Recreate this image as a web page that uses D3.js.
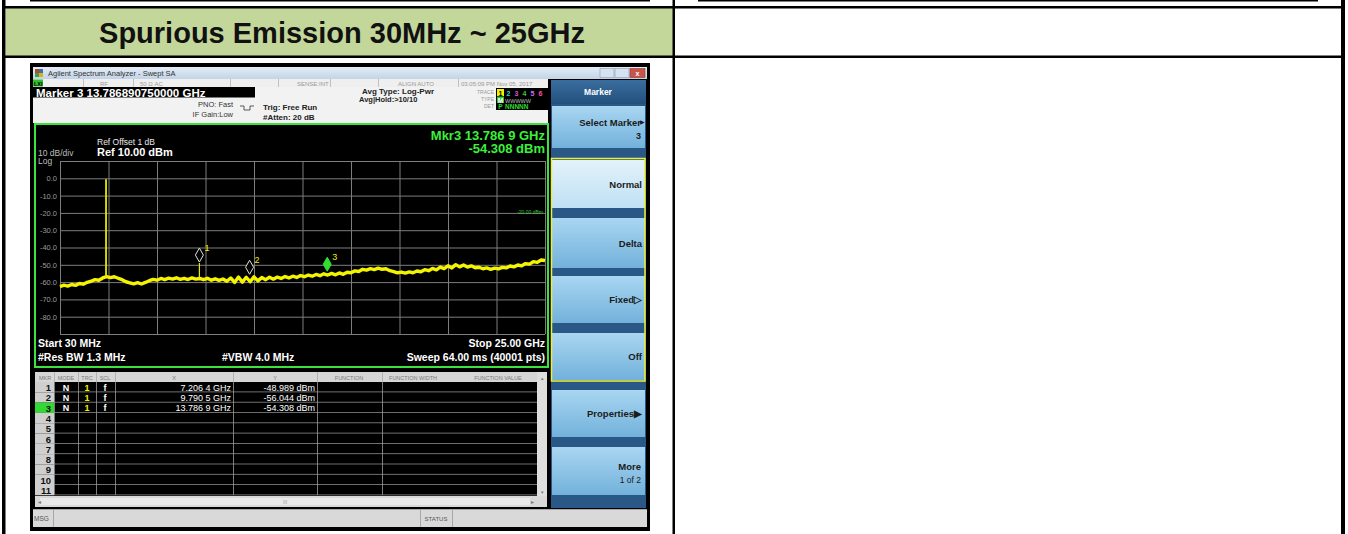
<!DOCTYPE html>
<html>
<head>
<meta charset="utf-8">
<script src="https://cdn.jsdelivr.net/npm/d3@7"></script>
<style>
  body { margin: 0; background: #fff; }
  svg { display: block; font-family: "Liberation Sans", Arial, sans-serif; }
</style>
</head>
<body>
<div id="chart"></div>
<script>
// ---- data ----
var headerTitle = "Spurious Emission 30MHz ~ 25GHz";
var startGHz = 0.03, stopGHz = 25.0;
var yTicks = [0, -10, -20, -30, -40, -50, -60, -70, -80];

// peak trace, one value every ~0.2 GHz from start to stop (dBm)
var traceLevels = [
  -62.6, -61.8, -62.3, -61.4, -61.9, -60.8, -61.2, -60.1, -59.5, -58.6,
  -58.9, -57.6, -56.8, -57.4, -56.9, -57.8, -58.6, -59.8, -60.4, -61.0,
  -60.3, -61.1, -60.2, -59.2, -58.4, -58.9, -57.9, -58.6, -57.7, -58.3,
  -57.5, -58.4, -57.8, -58.5, -57.6, -58.3, -57.9, -58.6, -57.8, -58.9,
  -58.1, -59.0, -58.2, -59.5, -57.6, -60.2, -57.1, -60.0, -57.2, -59.8,
  -57.0, -59.3, -57.4, -58.6, -57.2, -58.3, -57.1, -57.9, -56.8, -57.6,
  -56.6, -57.3, -56.2, -56.9, -55.9, -56.6, -55.6, -56.3, -55.2, -55.9,
  -55.0, -55.8, -54.7, -55.5, -54.3, -54.6, -53.5, -53.9, -52.6, -53.1,
  -52.2, -52.8, -51.9, -52.6, -52.3, -53.4, -53.9, -54.6, -54.2, -54.8,
  -54.1, -54.6, -53.6, -54.0, -52.8, -53.4, -52.1, -52.9, -51.3, -52.2,
  -50.6, -51.8, -49.9, -51.2, -50.1, -51.3, -50.6, -51.7, -51.4, -52.3,
  -51.8, -52.6, -51.9, -52.4, -51.5, -51.8, -50.7, -51.2, -50.1, -50.6,
  -49.3, -49.6, -48.2, -48.6, -47.2, -47.5
];
var spikeFreqGHz = [2.40, 7.2064];
var spikeTopDbm = [-0.5, -48.989];
var spikeFootDbm = [-57.0, -58.0];

var markerIds = [1, 2, 3];
var markerFreqGHz = [7.2064, 9.7905, 13.7869];
var markerLevelDbm = [-48.989, -56.044, -54.308];
var activeMarker = 3;
var activeMarkerExact = "13.786890750000";

var softkeyLabels = ["Select Marker", "Normal", "Delta", "Fixed\u25B7", "Off", "Properties\u25B6", "More"];
var softkeySubs = ["3", "", "", "", "", "", "1 of 2"];
var softkeyTops = [106, 160, 218, 276, 333, 390, 447];
var softkeyBottoms = [148, 208, 268, 323, 380, 437, 495];

var tableCols = ["MKR", "MODE", "TRC", "SCL", "X", "Y", "FUNCTION", "FUNCTION WIDTH", "FUNCTION VALUE"];

// ---- drawing ----
var W = 1348, H = 534;
var svg = d3.select("#chart").append("svg")
  .attr("width", W).attr("height", H)
  .attr("viewBox", "0 0 " + W + " " + H);

var defs = svg.append("defs");
function grad(id, c1, c2) {
  var g = defs.append("linearGradient").attr("id", id)
    .attr("x1", 0).attr("y1", 0).attr("x2", 0).attr("y2", 1);
  g.append("stop").attr("offset", "0%").attr("stop-color", c1);
  g.append("stop").attr("offset", "100%").attr("stop-color", c2);
}
grad("gTitle", "#e4edf7", "#c3d3e6");
grad("gKey", "#a9d6f1", "#72b1db");
grad("gKeySel", "#e3f2fb", "#bfe0f4");
grad("gHead", "#3a6d9e", "#22507c");

function rect(g, x, y, w, h, fill) {
  return g.append("rect").attr("x", x).attr("y", y).attr("width", w).attr("height", h).attr("fill", fill);
}
function txt(g, x, y, s, size, fill, anchor, weight) {
  return g.append("text").attr("x", x).attr("y", y).text(s)
    .attr("font-size", size).attr("fill", fill)
    .attr("text-anchor", anchor || "start")
    .attr("font-weight", weight || "normal");
}
function hyph(s) { return s.replace("\u2212", "-"); }

// ---- outer table ----
var tbl = svg.append("g");
rect(tbl, 6, 8, 667, 48, "#c4d79b");
txt(tbl, 342, 43, headerTitle, 29, "#111", "middle", "bold");
rect(tbl, 30, 0, 620, 1.5, "#000");
rect(tbl, 698, 0, 620, 1.5, "#000");
rect(tbl, 2, 6, 1343, 2.5, "#000");
rect(tbl, 2, 55.5, 1343, 2.5, "#000");
rect(tbl, 2, 0, 3.5, H, "#000");
rect(tbl, 672.5, 0, 2.5, H, "#000");
rect(tbl, 1341, 0, 4, H, "#000");

// ---- analyzer screenshot ----
var sa = svg.append("g");
rect(sa, 30, 63, 620, 468, "#000");

// title bar
rect(sa, 33, 67, 614, 12, "url(#gTitle)");
rect(sa, 35, 69, 4, 4, "#b04a2a"); rect(sa, 39, 69, 4, 4, "#3a6fb0");
rect(sa, 35, 73, 4, 4, "#3aa040"); rect(sa, 39, 73, 4, 4, "#d8b020");
txt(sa, 48, 76, "Agilent Spectrum Analyzer - Swept SA", 7.5, "#333");
[600, 615].forEach(function (bx) {
  rect(sa, bx, 68.5, 14, 9, "#d6e2ef").attr("stroke", "#8a9bb0").attr("stroke-width", 0.6);
});
rect(sa, 630, 68.5, 15, 9, "#c9544a").attr("stroke", "#8a3a30").attr("stroke-width", 0.6);
txt(sa, 637.5, 76, "x", 7, "#fff", "middle", "bold");

// status row
rect(sa, 33, 79, 515, 8, "#efefef");
rect(sa, 33, 79.5, 10, 7, "#2fbf2f");
txt(sa, 34, 85.5, "LXI", 5.5, "#000", "start", "bold");
[83, 133, 230, 278, 330, 378, 458].forEach(function (dx) { rect(sa, dx, 79, 0.8, 8, "#b5b5b5"); });
txt(sa, 100, 85.5, "RF", 6, "#999");
txt(sa, 140, 85.5, "50 \u03A9   AC", 6, "#999");
txt(sa, 297, 85.5, "SENSE:INT", 6, "#999");
txt(sa, 398, 85.5, "ALIGN AUTO", 6, "#999");
txt(sa, 461, 85.5, "03:05:09 PM Nov 05, 2017", 6, "#999");

// info area
rect(sa, 33, 87, 515, 36, "#f2f2f2");
rect(sa, 33, 87, 222, 10.5, "#000");
txt(sa, 36, 96.5, "Marker " + activeMarker + " " + activeMarkerExact + " GHz", 11.5, "#fff", "start", "bold");
txt(sa, 233, 107, "PNO: Fast", 7.5, "#333", "end");
txt(sa, 233, 116.5, "IF Gain:Low", 7.5, "#333", "end");
sa.append("path").attr("d", "M240,106 h4 v4 h6 v-4 h4").attr("fill", "none").attr("stroke", "#333").attr("stroke-width", 0.8);
txt(sa, 263, 110, "Trig: Free Run", 8, "#222", "start", "bold");
txt(sa, 263, 120, "#Atten: 20 dB", 8, "#222", "start", "bold");
txt(sa, 362, 94, "Avg Type: Log-Pwr", 8, "#222", "start", "bold");
txt(sa, 359, 102, "Avg|Hold:>10/10", 7.5, "#222", "start", "bold");
txt(sa, 494, 94, "TRACE", 5, "#999", "end");
txt(sa, 494, 101, "TYPE", 5, "#999", "end");
txt(sa, 494, 108, "DET", 5, "#999", "end");
rect(sa, 496, 88, 52, 22, "#000");
var traceColors = ["#000", "#2ad4d4", "#d05cd0", "#38c838", "#d070ff", "#ff4f9f"];
rect(sa, 497, 89, 7, 7, "#f0f000");
traceColors.forEach(function (c, i) { txt(sa, 500.5 + i * 8, 95.5, String(i + 1), 7, c, "middle", "bold"); });
rect(sa, 497, 96.5, 7, 6.5, "#2fbf2f");
txt(sa, 500.5, 102.5, "M", 6.5, "#fff", "middle", "bold");
txt(sa, 505, 102.5, "WWWWW", 5.5, "#bbb");
txt(sa, 500.5, 109, "P", 6.5, "#2fdf2f", "middle", "bold");
txt(sa, 505, 109, "NNNNN", 6.5, "#2fdf2f", "start", "bold");

// graticule panel
rect(sa, 35, 124, 513, 243, "#000").attr("stroke", "#3ee23e").attr("stroke-width", 2);

var x = d3.scaleLinear().domain([startGHz, stopGHz]).range([60, 545]);
var y = d3.scaleLinear().domain([-90, 10]).range([334, 161]);

var plot = sa.append("g");
var gridX = d3.range(11).map(function (i) { return startGHz + i * (stopGHz - startGHz) / 10; });
var gridY = d3.range(11).map(function (i) { return 10 - i * 10; });

plot.append("g").attr("transform", "translate(0,334)")
  .call(d3.axisBottom(x).tickValues(gridX).tickSize(-173).tickFormat(""))
  .call(function (g) {
    g.select(".domain").remove();
    g.selectAll("line").attr("stroke", "#7d7d7d").attr("stroke-width", 1);
  });
plot.append("g").attr("transform", "translate(60,0)")
  .call(d3.axisLeft(y).tickValues(gridY).tickSize(-485).tickFormat(""))
  .call(function (g) {
    g.select(".domain").remove();
    g.selectAll("line").attr("stroke", "#7d7d7d").attr("stroke-width", 1);
  });
plot.append("g").attr("transform", "translate(58,0)")
  .call(d3.axisLeft(y).tickValues(yTicks).tickSize(0).tickPadding(1)
    .tickFormat(function (d) { return hyph(d3.format(".1f")(d)); }))
  .call(function (g) {
    g.select(".domain").remove();
    g.selectAll("text").attr("fill", "#9a9a9a").attr("font-size", 7.5)
      .attr("font-family", "Liberation Sans, Arial, sans-serif");
  });

txt(sa, 97, 145, "Ref Offset 1 dB", 8.5, "#e8e8e8");
txt(sa, 97, 155.5, "Ref 10.00 dBm", 11, "#fff", "start", "bold");
txt(sa, 38, 156, "10 dB/div", 8.5, "#bdbdbd");
txt(sa, 38, 163.5, "Log", 8.5, "#bdbdbd");
txt(sa, 545, 140, "Mkr" + activeMarker + " " + d3.format(".4f")(markerFreqGHz[activeMarker - 1]).replace(/(\d)$/, " $1") + " GHz", 13, "#3cf03c", "end", "bold");
txt(sa, 545, 153, hyph(d3.format(".3f")(markerLevelDbm[activeMarker - 1])) + " dBm", 13, "#3cf03c", "end", "bold");
txt(sa, 543, 214, "-20.00 dBm", 5, "#37c837", "end");

// trace
var n = traceLevels.length;
var fAt = d3.scaleLinear().domain([0, n - 1]).range([startGHz, stopGHz]);
var line = d3.line()
  .x(function (d, i) { return x(fAt(i)); })
  .y(function (d) { return y(d); });
plot.append("path").datum(traceLevels)
  .attr("d", line).attr("fill", "none")
  .attr("stroke", "#f4f400").attr("stroke-width", 3.4).attr("stroke-linejoin", "round");
plot.selectAll(".spike").data(spikeFreqGHz).enter().append("line")
  .attr("x1", function (d) { return x(d); }).attr("x2", function (d) { return x(d); })
  .attr("y1", function (d, i) { return y(spikeTopDbm[i]); })
  .attr("y2", function (d, i) { return y(spikeFootDbm[i]); })
  .attr("stroke", "#e8e800").attr("stroke-width", function (d, i) { return i === 0 ? 1.8 : 1.2; });

// markers
var mk = plot.selectAll(".mk").data(markerIds).enter().append("g");
mk.append("path")
  .attr("d", function (d, i) {
    var cx = x(markerFreqGHz[i]), cy = y(markerLevelDbm[i]) - 8;
    return "M" + cx + "," + (cy - 7) + "L" + (cx + 4) + "," + cy + "L" + cx + "," + (cy + 7) + "L" + (cx - 4) + "," + cy + "Z";
  })
  .attr("fill", function (d) { return d === activeMarker ? "#2fe02f" : "#000"; })
  .attr("stroke", function (d) { return d === activeMarker ? "#2fe02f" : "#e0e0e0"; })
  .attr("stroke-width", 1);
mk.append("text")
  .attr("x", function (d, i) { return x(markerFreqGHz[i]) + 5; })
  .attr("y", function (d, i) { return y(markerLevelDbm[i]) - 12; })
  .text(function (d) { return d; })
  .attr("font-size", 9).attr("fill", "#f0f000");

txt(sa, 38, 347, "Start 30 MHz", 10.5, "#fff", "start", "bold");
txt(sa, 38, 360.5, "#Res BW 1.3 MHz", 10.5, "#fff", "start", "bold");
txt(sa, 222, 360.5, "#VBW 4.0 MHz", 10.5, "#fff", "start", "bold");
txt(sa, 545, 347, "Stop 25.00 GHz", 10.5, "#fff", "end", "bold");
txt(sa, 545, 360.5, "Sweep  64.00 ms (40001 pts)", 10.5, "#fff", "end", "bold");

// marker table
var tb = sa.append("g");
rect(tb, 35, 372, 512, 10, "#d6d6d6");
var headPos = [45, 66, 87, 105, 174, 275, 349, 413, 498];
tableCols.forEach(function (c, i) { txt(tb, headPos[i], 380, c, 5.5, "#7a7a7a", "middle"); });
[54, 78, 96, 115, 233, 317, 382].forEach(function (cx) { rect(tb, cx, 372, 0.8, 10, "#aaa"); });
var rowH = 10.3, row0 = 382;
d3.range(11).forEach(function (r) {
  var ry = row0 + r * rowH;
  rect(tb, 35, ry, 19, rowH, r + 1 === activeMarker ? "#34d834" : "#cfcfcf");
  rect(tb, 54, ry + rowH - 0.8, 483, 0.8, "#8a8a8a");
  txt(tb, 51, ry + 9, String(r + 1), 9.5, "#111", "end", "bold");
});
[54, 78, 96, 115, 233, 317, 382].forEach(function (cx) { rect(tb, cx, 382, 0.8, 113, "#9a9a9a"); });
markerIds.forEach(function (m, i) {
  var ry = row0 + i * rowH + 8.5;
  txt(tb, 66, ry, "N", 9, "#fff", "middle", "bold");
  txt(tb, 87, ry, "1", 9, "#f0f000", "middle", "bold");
  txt(tb, 105, ry, "f", 9, "#fff", "middle", "bold");
  txt(tb, 231, ry, d3.format(".4f")(markerFreqGHz[i]).replace(/(\d)$/, " $1") + " GHz", 9, "#fff", "end");
  txt(tb, 315, ry, hyph(d3.format(".3f")(markerLevelDbm[i])) + " dBm", 9, "#fff", "end");
});
rect(tb, 537, 372, 10, 124, "#dedede");
txt(tb, 542, 380, "\u25B4", 5, "#777", "middle");
txt(tb, 542, 494, "\u25BE", 5, "#777", "middle");
rect(tb, 35, 496, 512, 11, "#d8d8d8");
rect(tb, 40, 498, 490, 7, "#e9e9e9");
txt(tb, 38, 504, "\u25C2", 6, "#777");
txt(tb, 531, 504, "\u25B8", 6, "#777");
txt(tb, 285, 504, "III", 5, "#999", "middle");

// message bar
rect(sa, 33, 509, 614, 18, "#d9d9d9");
rect(sa, 33, 509, 614, 0.8, "#9a9a9a");
txt(sa, 34, 521, "MSG", 6.5, "#555");
[53, 420, 452].forEach(function (dx) { rect(sa, dx, 509, 0.8, 18, "#9a9a9a"); });
txt(sa, 436, 521, "STATUS", 6, "#555", "middle");

// softkeys
var sk = sa.append("g");
rect(sk, 551, 80, 95, 428, "#2a5886");
rect(sk, 551, 80, 95, 24, "url(#gHead)");
txt(sk, 598, 95, "Marker", 8.5, "#fff", "middle", "bold");
softkeyLabels.forEach(function (lab, i) {
  var top = softkeyTops[i], bot = softkeyBottoms[i];
  rect(sk, 552, top, 93, bot - top, i === 1 ? "url(#gKeySel)" : "url(#gKey)");
  var mid = (top + bot) / 2;
  if (softkeySubs[i]) {
    txt(sk, 641, mid - 1, lab, 9.5, "#1b1b1b", "end", "bold");
    txt(sk, 641, mid + 12, softkeySubs[i], i === 0 ? 9 : 8.5, "#1b1b1b", "end", i === 0 ? "bold" : "normal");
  } else {
    txt(sk, 642, mid + 3.5, lab, 9.5, "#1b1b1b", "end", "bold");
  }
});
txt(sk, 645, 124, "\u25B6", 6, "#1b1b1b", "end");
sk.append("rect").attr("x", 551.5).attr("y", 158.5).attr("width", 93.5).attr("height", 222.5)
  .attr("fill", "none").attr("stroke", "#f0f030").attr("stroke-width", 1.5);
</script>
</body>
</html>
